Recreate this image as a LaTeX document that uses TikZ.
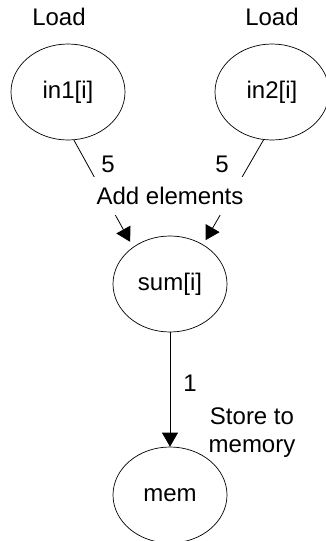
\documentclass[tikz,border=0pt]{standalone}
\usepackage{fontspec}
\setmainfont{Liberation Sans}
\usetikzlibrary{arrows.meta,shapes.geometric}

\tikzset{
    opnode/.style={draw, ellipse, minimum width=114pt, minimum height=96pt, line width=0.7pt},
    flow/.style={line width=0.8pt, -{Triangle[width=16pt,length=14pt]}},
}

\begin{document}
\begin{tikzpicture}[x=1pt, y=-1pt, font=\fontsize{24}{28}\selectfont]
    \useasboundingbox (0,0) rectangle (325,541);

    % Operation nodes
    \node[opnode] (in1) at (68,92) {in1[i]};
    \node[opnode] (in2) at (272,92) {in2[i]};
    \node[opnode] (sum) at (170,284) {sum[i]};
    \node[opnode] (mem) at (170,495) {mem};

    % Load labels
    \node (load1) at (59,17) {Load};
    \node (load2) at (272,17) {Load};

    % Inputs to the adder
    \draw[flow, shorten >=6pt] (in1.-83) -- (sum.135);
    \draw[flow, shorten >=5pt] (in2.-100) -- (sum.50);
    \node[fill=white, inner sep=10pt] (add) at (170,196) {Add elements};
    \node (lat1) at (108,164) {5};
    \node (lat2) at (222,164) {5};

    % Store
    \draw[flow] (sum) -- (mem);
    \node (lat3) at (190,383) {1};
    \node[align=center] (store) at (252,433) {Store to\\memory};
\end{tikzpicture}
\end{document}
